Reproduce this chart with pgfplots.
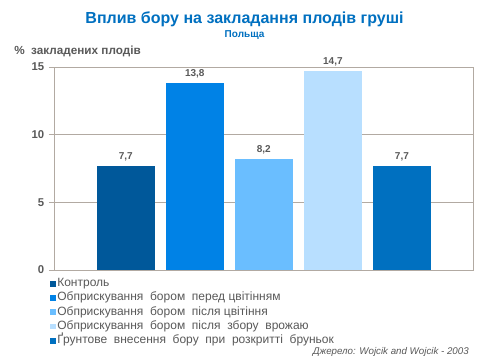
\documentclass[border=0pt]{standalone}
\usepackage{pgfplots}
\pgfplotsset{compat=1.18}
\usepackage{fontspec}
\setmainfont{Liberation Sans}
\definecolor{cA}{RGB}{0,88,154}
\definecolor{cB}{RGB}{0,130,230}
\definecolor{cC}{RGB}{106,190,255}
\definecolor{cD}{RGB}{184,223,255}
\definecolor{cE}{RGB}{0,112,192}
\definecolor{titleblue}{RGB}{0,112,192}
\definecolor{txt}{RGB}{89,89,89}
\definecolor{gridc}{RGB}{178,170,162}
\begin{document}
\begin{tikzpicture}[x=1pt,y=1pt]
\fill[white] (0,0) rectangle (360,270);
\node[font=\bfseries\fontsize{12}{14}\selectfont, text=titleblue] at (183.4,255.75) {Вплив бору на закладання плодів груші};
\node[font=\bfseries\fontsize{7.5}{9}\selectfont, text=titleblue] at (183.4,243.75) {Польща};
\node[font=\bfseries\fontsize{8.8}{10}\selectfont, text=txt, anchor=west, inner sep=0pt] at (10.5,231.75) {\%\ \ закладених плодів};
\begin{axis}[at={(40.5pt,67.5pt)}, anchor=south west, scale only axis,
  width=314.25pt, height=152.25pt,
  ybar, bar width=0.84, bar shift=0pt,
  xmin=-1.04, xmax=5.03, ymin=0, ymax=15,
  xtick=\empty, ytick={0,5,10,15},
  ymajorgrids, grid style={gridc, line width=0.6pt},
  axis line style={gridc, line width=0.6pt},
  tick style={gridc, line width=0.6pt}, ytick pos=left, tick align=outside, major tick length=3.75pt,
  yticklabel style={font=\bfseries\fontsize{8.5}{10}\selectfont, text=txt},
  /pgf/number format/assume math mode=true,
  nodes near coords,
  nodes near coords style={font=\bfseries\fontsize{7.5}{9}\selectfont, text=txt, /pgf/number format/.cd, fixed, precision=1, use comma, fixed zerofill, assume math mode=true},
  legend style={at={(-0.0096,-0.033)}, anchor=north west, draw=none, fill=none,
    font=\fontsize{9}{10}\selectfont, text=txt, row sep=0.6pt, inner sep=0pt,
    nodes={text height=6.5pt, text depth=2pt, inner sep=0.8pt}},
  legend cell align=left,
  legend image code/.code={\fill[#1] (0pt,-2.2pt) rectangle (4.5pt,2.2pt);},
]
\addplot[fill=cA, draw=none] coordinates {(0,7.7)};
\addplot[fill=cB, draw=none] coordinates {(1,13.8)};
\addplot[fill=cC, draw=none] coordinates {(2,8.2)};
\addplot[fill=cD, draw=none] coordinates {(3,14.7)};
\addplot[fill=cE, draw=none] coordinates {(4,7.7)};
\legend{Контроль, Обприскування\ \ бором\ \ перед цвітінням, Обприскування\ \ бором\ \ після цвітіння, Обприскування\ \ бором\ \ після\ \ збору\ \ врожаю, Ґрунтове\ \ внесення\ \ бору\ \ при\ \ розкритті\ \ бруньок}
\end{axis}
\node[font=\itshape\fontsize{7.3}{8}\selectfont, text=txt, anchor=east, inner sep=0pt] at (351.75,6) {Джерело: Wojcik and Wojcik - 2003};
\end{tikzpicture}
\end{document}
